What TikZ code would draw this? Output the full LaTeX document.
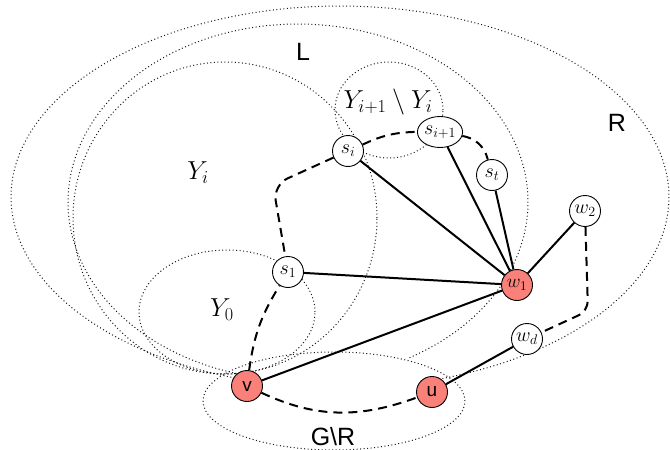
\RequirePackage{fix-cm}
\documentclass[tikz,border=0pt]{standalone}
\usepackage{fontspec}
\setsansfont{Liberation Sans}
\usetikzlibrary{shapes.geometric}
\definecolor{nodered}{RGB}{250,128,122}
\tikzset{
  vert/.style={ellipse, draw, line width=0.9pt, fill=white, minimum width=31pt, minimum height=31pt, inner sep=0pt, font=\fontsize{20}{22}\selectfont},
  hot/.style={vert, fill=nodered, font=\fontsize{19}{22}\selectfont\sffamily},
  region/.style={draw=black!90, line width=1pt, dash pattern=on 1pt off 2.5pt},
  solidedge/.style={line width=2pt},
  dashedge/.style={line width=2pt, dash pattern=on 9pt off 6pt},
  biglab/.style={font=\fontsize{25}{28}\selectfont\sffamily, inner sep=0pt},
  mathlab/.style={font=\fontsize{26}{30}\selectfont, inner sep=0pt},
}
\begin{document}
\begin{tikzpicture}[x=1pt,y=1pt]
\useasboundingbox (0,0) rectangle (670,-450);
% regions
\draw[region] plot[domain=-75:254, samples=240, variable=\t] ({340+329*cos(\t)},{-197+191*sin(\t)});
\draw[region] plot[domain=-61:258, samples=240, variable=\t] ({298+230*cos(\t)},{-202+178*sin(\t)});
\draw[region] (225,-218) ellipse [x radius=152, y radius=156];
\draw[region] (227,-312) ellipse [x radius=88, y radius=62];
\draw[region] (389,-110) ellipse [x radius=54, y radius=48];
\draw[region] (334,-401) ellipse [x radius=131, y radius=49];
% labels
\node[biglab] (labL) at (303,-52) {L};
\node[biglab] (labR) at (617,-123) {R};
\node[biglab] (labGR) at (333,-437) {G\textbackslash R};
\node[mathlab] (labYi) at (198,-173) {$Y_i$};
\node[mathlab] (labY0) at (222,-310) {$Y_0$};
\node[mathlab] (labYip) at (388,-102) {$Y_{i+1}\setminus Y_i$};
% vertices
\node[vert] (si) at (348,-151) {$s_i$};
\node[vert] (sip) at (440,-132) {$s_{i+1}$};
\node[vert] (st) at (492,-175) {$s_t$};
\node[vert] (s1) at (288,-272) {$s_1$};
\node[hot] (w1) at (517,-285) {$w_1$};
\node[vert] (w2) at (585,-211) {$w_2$};
\node[vert] (wd) at (527,-339) {$w_d$};
\node[hot] (v) at (247,-386) {v};
\node[hot] (u) at (432,-392) {u};
\coordinate (c1) at (273,-185);
\coordinate (c2) at (588,-311);
% edges
\draw[solidedge] (si) -- (w1);
\draw[solidedge] (sip) -- (w1);
\draw[solidedge] (st) -- (w1);
\draw[solidedge] (s1) -- (w1);
\draw[solidedge] (v) -- (w1);
\draw[solidedge] (w2) -- (w1);
\draw[solidedge] (wd) -- (u);
\draw[dashedge] (si) to[bend left=12] (sip);
\draw[dashedge] (sip) to[out=-10, in=105] (st);
\draw[dashedge, rounded corners=16pt] (si) -- (c1) -- (s1);
\draw[dashedge] (v) to[bend left=12] (s1);
\draw[dashedge] (v) to[out=-25, in=200] (u);
\draw[dashedge, rounded corners=10pt] (w2) -- (c2) -- (wd);
\end{tikzpicture}
\end{document}
